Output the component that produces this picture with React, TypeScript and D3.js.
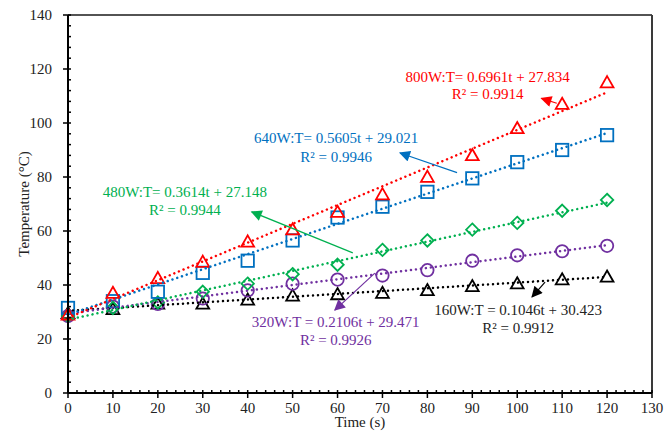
import React from "react";
import * as d3 from "d3";

const times = [0, 10, 20, 30, 40, 50, 60, 70, 80, 90, 100, 110, 120];
const t800 = [29, 37, 42.5, 48.5, 56, 60.5, 67, 73.5, 80, 88, 98, 107, 115];
const t640 = [31.5, 34, 37.5, 44.5, 49, 56.5, 65, 69, 74.5, 79.5, 85.5, 90, 95.5];
const t480 = [28.5, 31.5, 33.5, 37.5, 40.5, 44, 47.5, 53, 56.5, 60.5, 63, 67.5, 71.5];
const t320 = [28.5, 32, 33, 35, 38, 40.5, 42, 43.5, 45.5, 49, 51, 52.5, 54.5];
const t160 = [29.5, 31, 33, 33, 34.5, 36, 36.5, 37, 38, 39.5, 40.5, 42, 43];

const seriesNames = ["160W", "320W", "480W", "640W", "800W"];
const slopes = [0.1046, 0.2106, 0.3614, 0.5605, 0.6961];
const intercepts = [30.423, 29.471, 27.148, 29.021, 27.834];
const r2s = ["0.9912", "0.9926", "0.9944", "0.9946", "0.9914"];
const eqLabels = [
  "160W:T = 0.1046t + 30.423",
  "320W:T = 0.2106t + 29.471",
  "480W:T= 0.3614t + 27.148",
  "640W:T= 0.5605t + 29.021",
  "800W:T= 0.6961t + 27.834",
];

const xTicks = [0, 10, 20, 30, 40, 50, 60, 70, 80, 90, 100, 110, 120, 130];
const yTicks = [0, 20, 40, 60, 80, 100, 120, 140];

export default function App() {
  const W = 672, H = 433;
  const left = 68, right = 652, top = 15, bottom = 393;
  const x = d3.scaleLinear().domain([0, 130]).range([left, right]);
  const y = d3.scaleLinear().domain([0, 140]).range([bottom, top]);

  const values = [t160, t320, t480, t640, t800];
  const colors = ["#000000", "#7030A0", "#00B050", "#0070C0", "#FF0000"];
  const shapes = ["tri", "circle", "diamond", "square", "tri"];

  const ann = [
    { tx: 100.2, l1: 28.9, l2: 22.3, hx: 103.3, hy: 35.6, sx: 106.2, sy: 41.1 },
    { tx: 59.6, l1: 24.3, l2: 17.8, hx: 59.4, hy: 30.7, sx: 68.3, sy: 44.4 },
    { tx: 26.0, l1: 72.7, l2: 65.9, hx: 40.9, hy: 67.1, sx: 63.4, sy: 51.9 },
    { tx: 59.7, l1: 92.5, l2: 85.7, hx: 73.9, hy: 88.9, sx: 86.6, sy: 81.6 },
    { tx: 93.4, l1: 115.3, l2: 108.8, hx: 105.4, hy: 109.1, sx: 108.8, sy: 107.3 },
  ];

  const minorX = d3.range(0, 131, 2).filter((v) => v % 10 !== 0);
  const minorY = d3.range(0, 141, 4).filter((v) => v % 20 !== 0);

  const marker = (shape: string, cx: number, cy: number, c: string, k: string) => {
    const sw = 1.8;
    if (shape === "tri") {
      const s = 6.4;
      const p = `M${cx},${cy - s * 1.0} L${cx + s},${cy + s * 0.75} L${cx - s},${cy + s * 0.75} Z`;
      return <path key={k} d={p} fill="none" stroke={c} strokeWidth={sw} strokeLinejoin="miter" />;
    }
    if (shape === "square") {
      const s = 6.2;
      return <rect key={k} x={cx - s} y={cy - s} width={2 * s} height={2 * s} fill="none" stroke={c} strokeWidth={sw} />;
    }
    if (shape === "diamond") {
      const s = 6.2;
      const p = `M${cx},${cy - s} L${cx + s},${cy} L${cx},${cy + s} L${cx - s},${cy} Z`;
      return <path key={k} d={p} fill="none" stroke={c} strokeWidth={sw} />;
    }
    return <circle key={k} cx={cx} cy={cy} r={6.2} fill="none" stroke={c} strokeWidth={sw} />;
  };

  const font = "'Liberation Serif', 'Times New Roman', serif";

  return (
    <svg width={W} height={H} style={{ position: "absolute", left: 0, top: 0, background: "#fff" }} fontFamily={font}>
      <defs>
        {colors.map((c, i) => (
          <marker key={i} id={`ah${i}`} viewBox="0 0 10 10" refX="9" refY="5" markerWidth="12" markerHeight="11" markerUnits="userSpaceOnUse" orient="auto-start-reverse">
            <path d="M0,0 L10,5 L0,10 Z" fill={c} />
          </marker>
        ))}
      </defs>
      <rect x={0} y={0} width={W} height={H} fill="#fff" />
      <line x1={left} x2={right} y1={top} y2={top} stroke="#1a1a1a" strokeWidth={1.5} />
      <line x1={right} x2={right} y1={top} y2={bottom} stroke="#3a3a3a" strokeWidth={2} />

      {values.map((vals, si) =>
        vals.map((v, i) => marker(shapes[si], x(times[i]), y(v), colors[si], `m${si}-${i}`))
      )}

      {slopes.map((m, si) => (
        <line key={`tl${si}`} x1={x(0)} y1={y(intercepts[si])} x2={x(120)} y2={y(intercepts[si] + m * 120)}
          stroke={colors[si]} strokeWidth={2.5} strokeDasharray="0.01 5" strokeLinecap="round" />
      ))}

      <line x1={left} x2={left} y1={top} y2={bottom} stroke="#000" strokeWidth={2} />
      <line x1={left} x2={right} y1={bottom} y2={bottom} stroke="#000" strokeWidth={2} />
      {yTicks.map((v) => (
        <g key={`yt${v}`}>
          <line x1={left - 5} x2={left + 3} y1={y(v)} y2={y(v)} stroke="#000" strokeWidth={1.5} />
          <text x={52} y={y(v)} dy="0.35em" textAnchor="end" fontSize={15} fill="#222">{v}</text>
        </g>
      ))}
      {minorY.map((v) => (
        <line key={`ym${v}`} x1={left} x2={left + 3} y1={y(v)} y2={y(v)} stroke="#000" strokeWidth={1.5} />
      ))}
      {xTicks.map((v) => (
        <g key={`xt${v}`}>
          <line x1={x(v)} x2={x(v)} y1={bottom - 3} y2={bottom + 5} stroke="#000" strokeWidth={1.5} />
          <text x={x(v)} y={413} textAnchor="middle" fontSize={15} fill="#222">{v}</text>
        </g>
      ))}
      {minorX.map((v) => (
        <line key={`xm${v}`} x1={x(v)} x2={x(v)} y1={bottom - 3} y2={bottom} stroke="#000" strokeWidth={1.5} />
      ))}
      <text x={(left + right) / 2} y={427} textAnchor="middle" fontSize={15} fill="#222">Time (s)</text>
      <text transform={`translate(29,${(top + bottom) / 2}) rotate(-90)`} textAnchor="middle" fontSize={15} fill="#222">Temperature (°C)</text>

      {ann.map((a, si) => (
        <g key={`an${si}`}>
          <line x1={x(a.sx)} y1={y(a.sy)} x2={x(a.hx)} y2={y(a.hy)} stroke={colors[si]} strokeWidth={1.2} markerEnd={`url(#ah${si})`} />
          <text x={x(a.tx)} y={y(a.l1)} textAnchor="middle" fontSize={15} fill={colors[si] === "#000000" ? "#222" : colors[si]}>{eqLabels[si]}</text>
          <text x={x(a.tx)} y={y(a.l2)} textAnchor="middle" fontSize={15} fill={colors[si] === "#000000" ? "#222" : colors[si]}>{`R² = ${r2s[si]}`}</text>
        </g>
      ))}
    </svg>
  );
}
